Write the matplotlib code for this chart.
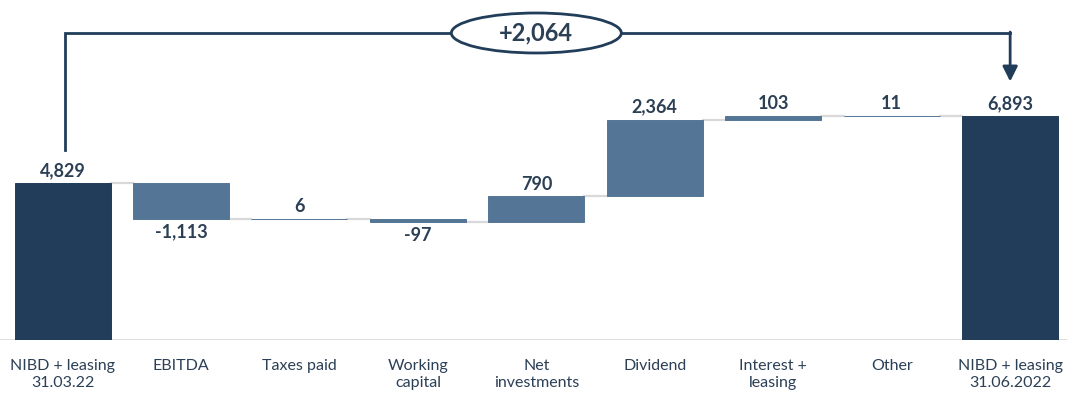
import matplotlib
matplotlib.use("Agg")
import matplotlib.pyplot as plt
from matplotlib.patches import Ellipse

plt.rcParams['font.family'] = ['Lato', 'DejaVu Sans']

# NIBD bridge, figures in NOK million
categories = ['NIBD + leasing\n31.03.22', 'EBITDA', 'Taxes paid', 'Working\ncapital',
              'Net\ninvestments', 'Dividend', 'Interest +\nleasing', 'Other',
              'NIBD + leasing\n31.06.2022']
start_value = 4829
changes = [-1113, 6, -97, 790, 2364, 103, 11]
end_value = 6893
bridge_label = '+2,064'

DARK = '#213d59'
MID = '#557596'
TEXT = '#2b3f55'
GREY = '#d9d9d9'

fig = plt.figure(figsize=(10.67, 3.97), dpi=100)
ax = fig.add_axes([0, 57 / 397, 1, 340 / 397])
ax.set_xlim(-0.528, 8.48)
ax.set_ylim(0, 10458)
width = 0.81

# bottoms/heights for every bar
bottoms, heights, colors = [0], [start_value], [DARK]
running = start_value
levels = [start_value]
for c in changes:
    bottoms.append(running if c >= 0 else running + c)
    heights.append(abs(c))
    colors.append(MID)
    running += c
    levels.append(running)
bottoms.append(0)
heights.append(end_value)
colors.append(DARK)

x = list(range(len(categories)))
ax.bar(x, heights, bottom=bottoms, width=width, color=colors,
       edgecolor=colors, linewidth=0.7, zorder=3)

# connectors between bars
for i, lvl in enumerate(levels):
    ax.plot([i + width / 2, i + 1 - width / 2], [lvl, lvl], color=GREY, lw=1.6, zorder=2)

# value labels
values = [start_value] + changes + [end_value]
for i, v in enumerate(values):
    txt = f'{v:,}'
    if v >= 0:
        ax.text(i, bottoms[i] + heights[i] + 120, txt, ha='center', va='bottom',
                fontsize=13, fontweight='bold', color=TEXT)
    else:
        ax.text(i, bottoms[i] - 140, txt, ha='center', va='top',
                fontsize=13, fontweight='bold', color=TEXT)

# baseline
ax.axhline(0, color=GREY, lw=1.2, zorder=1)

# category labels
ax.set_xticks(x)
ax.set_xticklabels(categories, fontsize=11.5, color=TEXT, linespacing=1.2)
ax.tick_params(axis='x', length=0, pad=14)
ax.set_yticks([])
for s in ax.spines.values():
    s.set_visible(False)

# bracket showing total change
top = 9443
ax.plot([0.02, 0.02, 8.0], [5844, top, top], color=DARK, lw=2, zorder=4, clip_on=False,
        solid_joinstyle='miter')
ax.annotate('', xy=(8.0, 7950), xytext=(8.0, top + 30),
            arrowprops=dict(arrowstyle='-|>,head_length=0.9,head_width=0.45',
                            color=DARK, lw=2, shrinkA=0, shrinkB=0), zorder=4)
ell = Ellipse((4.0, top), 1.435, 1230, facecolor='white', edgecolor=DARK, lw=2,
              zorder=5, clip_on=False)
ax.add_patch(ell)
ax.text(4.0, top, bridge_label, ha='center', va='center', fontsize=17,
        fontweight='bold', color=TEXT, zorder=6)

fig.savefig('out.png', dpi=100)
